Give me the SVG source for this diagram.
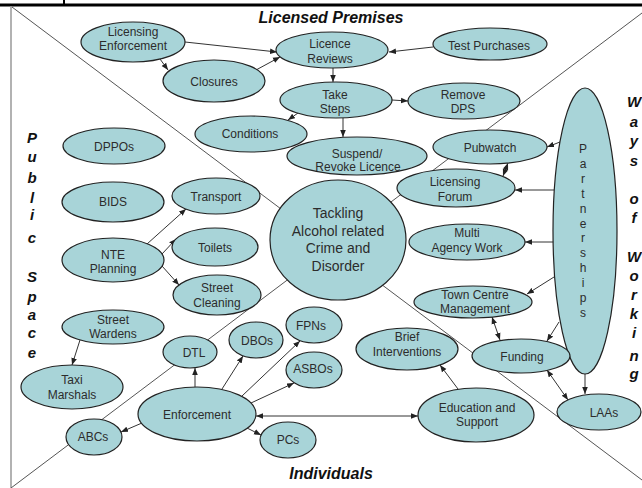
<svg xmlns="http://www.w3.org/2000/svg" width="642" height="488" viewBox="0 0 642 488">
<style>
.n{fill:#a8d4d8;stroke:#222;stroke-width:1.2}
.t{font-family:"Liberation Sans",Arial,sans-serif;font-size:12px;fill:#2c2c2c;text-anchor:middle}
.big{font-size:14px}
.c{stroke:#333;stroke-width:1;fill:none}
.d{stroke:#555;stroke-width:1;fill:none}
.h{font-family:"Liberation Sans",Arial,sans-serif;font-weight:bold;font-style:italic;font-size:16px;fill:#111;text-anchor:middle}
.v{font-family:"Liberation Sans",Arial,sans-serif;font-weight:bold;font-style:italic;font-size:15px;fill:#111;text-anchor:middle}
</style>
<defs>
<marker id="ah" viewBox="0 0 10 10" refX="10" refY="5" markerWidth="7" markerHeight="7" markerUnits="userSpaceOnUse" orient="auto-start-reverse">
<path d="M0,1 L10,5 L0,9 z" fill="#222"/>
</marker>
</defs>
<rect width="642" height="488" fill="#fff"/>
<g id="frame">
<line x1="0" y1="5" x2="642" y2="5" stroke="#000" stroke-width="3"/>
<line x1="64" y1="0" x2="64" y2="5" stroke="#000" stroke-width="2"/>
<line x1="11" y1="6" x2="11" y2="488" stroke="#999" stroke-width="1.5"/>
<line class="d" x1="12" y1="7" x2="642" y2="480"/>
<line class="d" x1="11" y1="488" x2="642" y2="13"/>
</g>
<g id="labels">
<text class="h" x="331" y="23">Licensed Premises</text>
<text class="h" x="331" y="479">Individuals</text>
<text class="v" x="32"><tspan x="32" y="143">P</tspan><tspan x="32" y="162">u</tspan><tspan x="32" y="183">b</tspan><tspan x="32" y="203">l</tspan><tspan x="32" y="220">i</tspan><tspan x="32" y="243">c</tspan><tspan x="32" y="282">S</tspan><tspan x="32" y="302">p</tspan><tspan x="32" y="320">a</tspan><tspan x="32" y="338">c</tspan><tspan x="32" y="358">e</tspan></text>
<text class="v" x="634"><tspan x="634" y="107">W</tspan><tspan x="634" y="127">a</tspan><tspan x="634" y="146">y</tspan><tspan x="634" y="166">s</tspan><tspan x="634" y="204">o</tspan><tspan x="634" y="223">f</tspan><tspan x="634" y="262">W</tspan><tspan x="634" y="281">o</tspan><tspan x="634" y="300">r</tspan><tspan x="634" y="319">k</tspan><tspan x="634" y="338">i</tspan><tspan x="634" y="361">n</tspan><tspan x="634" y="379">g</tspan></text>
</g>
<g id="connectors" class="c" marker-end="url(#ah)">
<line x1="185" y1="42" x2="277" y2="52"/>
<line x1="160" y1="59" x2="168" y2="70"/>
<line x1="256" y1="70" x2="280" y2="57"/>
<line x1="433" y1="47" x2="389" y2="52"/>
<line x1="333" y1="68" x2="333" y2="82"/>
<line x1="392" y1="100" x2="408" y2="101"/>
<line x1="298" y1="113" x2="288" y2="120"/>
<line x1="343" y1="118" x2="343" y2="137"/>
<line x1="560" y1="142" x2="547" y2="147"/>
<line x1="508" y1="163" x2="503" y2="176" marker-start="url(#ah)"/>
<line x1="554" y1="190" x2="515" y2="190"/>
<line x1="554" y1="242" x2="525" y2="242"/>
<line x1="554" y1="277" x2="527" y2="294"/>
<line x1="492" y1="317" x2="500" y2="340" marker-start="url(#ah)"/>
<line x1="559" y1="322" x2="547" y2="341"/>
<line x1="547" y1="370" x2="568" y2="400" marker-start="url(#ah)"/>
<line x1="585" y1="374" x2="585" y2="394"/>
<line x1="458" y1="389" x2="440" y2="365"/>
<line x1="256" y1="416" x2="418" y2="416" marker-start="url(#ah)"/>
<line x1="247" y1="428" x2="261" y2="435"/>
<line x1="251" y1="403" x2="294" y2="383"/>
<line x1="242" y1="396" x2="300" y2="341"/>
<line x1="222" y1="389" x2="243" y2="356"/>
<line x1="195" y1="387" x2="195" y2="368"/>
<line x1="142" y1="423" x2="121" y2="432"/>
<line x1="80" y1="340" x2="72" y2="365"/>
<line x1="147" y1="244" x2="186" y2="209"/>
<line x1="162" y1="254" x2="176" y2="239"/>
<line x1="162" y1="266" x2="179" y2="285"/>
</g>
<g id="licensing-enforcement"><ellipse class="n" cx="133" cy="42" rx="52" ry="20"/><text class="t" x="133" y="36">Licensing</text><text class="t" x="133" y="50">Enforcement</text></g>
<g id="closures"><ellipse class="n" cx="214" cy="81" rx="51" ry="21"/><text class="t" x="214" y="86">Closures</text></g>
<g id="licence-reviews"><ellipse class="n" cx="332" cy="50" rx="56" ry="18"/><text class="t" x="330" y="48">Licence</text><text class="t" x="330" y="63">Reviews</text></g>
<g id="test-purchases"><ellipse class="n" cx="490" cy="44" rx="57" ry="16"/><text class="t" x="489" y="50">Test Purchases</text></g>
<g id="take-steps"><ellipse class="n" cx="336" cy="100" rx="56" ry="18"/><text class="t" x="335" y="99">Take</text><text class="t" x="335" y="113">Steps</text></g>
<g id="remove-dps"><ellipse class="n" cx="464" cy="101" rx="56" ry="18"/><text class="t" x="463" y="99">Remove</text><text class="t" x="463" y="113">DPS</text></g>
<g id="conditions"><ellipse class="n" cx="251" cy="134" rx="56" ry="18"/><text class="t" x="250" y="138">Conditions</text></g>
<g id="suspend-revoke"><ellipse class="n" cx="357" cy="156" rx="70" ry="19"/><text class="t" x="357" y="158">Suspend/</text><text class="t" x="358" y="171">Revoke Licence</text></g>
<g id="pubwatch"><ellipse class="n" cx="490" cy="147" rx="57" ry="17"/><text class="t" x="490" y="152">Pubwatch</text></g>
<g id="licensing-forum"><ellipse class="n" cx="456" cy="188" rx="59" ry="19"/><text class="t" x="455" y="186">Licensing</text><text class="t" x="455" y="201">Forum</text></g>
<g id="multi-agency-work"><ellipse class="n" cx="467" cy="242" rx="58" ry="18"/><text class="t" x="467" y="237">Multi</text><text class="t" x="467" y="252">Agency Work</text></g>
<g id="partnerships"><ellipse class="n" cx="585" cy="231" rx="32" ry="143"/><text class="t"><tspan x="583" y="153">P</tspan><tspan x="583" y="168">a</tspan><tspan x="583" y="183">r</tspan><tspan x="583" y="198">t</tspan><tspan x="583" y="213">n</tspan><tspan x="583" y="228">e</tspan><tspan x="583" y="242">r</tspan><tspan x="583" y="257">s</tspan><tspan x="583" y="272">h</tspan><tspan x="583" y="287">i</tspan><tspan x="583" y="302">p</tspan><tspan x="583" y="317">s</tspan></text></g>
<g id="town-centre-management"><ellipse class="n" cx="473" cy="302" rx="59" ry="16"/><text class="t" x="475" y="299">Town Centre</text><text class="t" x="475" y="313">Management</text></g>
<g id="funding"><ellipse class="n" cx="521" cy="356" rx="49" ry="17"/><text class="t" x="522" y="361">Funding</text></g>
<g id="laas"><ellipse class="n" cx="599" cy="412" rx="42" ry="18"/><text class="t" x="604" y="417">LAAs</text></g>
<g id="brief-interventions"><ellipse class="n" cx="407" cy="349" rx="51" ry="21"/><text class="t" x="407" y="341">Brief</text><text class="t" x="407" y="356">Interventions</text></g>
<g id="education-support"><ellipse class="n" cx="476" cy="415" rx="58" ry="27"/><text class="t" x="477" y="412">Education and</text><text class="t" x="477" y="426">Support</text></g>
<g id="enforcement"><ellipse class="n" cx="197" cy="414" rx="59" ry="27"/><text class="t" x="197" y="419">Enforcement</text></g>
<g id="pcs"><ellipse class="n" cx="288" cy="440" rx="28" ry="18"/><text class="t" x="288" y="444">PCs</text></g>
<g id="asbos"><ellipse class="n" cx="314" cy="370" rx="28" ry="18"/><text class="t" x="313" y="373">ASBOs</text></g>
<g id="fpns"><ellipse class="n" cx="314" cy="325" rx="28" ry="18"/><text class="t" x="311" y="330">FPNs</text></g>
<g id="dbos"><ellipse class="n" cx="256" cy="340" rx="27" ry="18"/><text class="t" x="257" y="345">DBOs</text></g>
<g id="dtl"><ellipse class="n" cx="190" cy="352" rx="27" ry="16"/><text class="t" x="194" y="357">DTL</text></g>
<g id="abcs"><ellipse class="n" cx="94" cy="437" rx="28" ry="18"/><text class="t" x="93" y="441">ABCs</text></g>
<g id="taxi-marshals"><ellipse class="n" cx="72" cy="387" rx="51" ry="22"/><text class="t" x="72" y="384">Taxi</text><text class="t" x="72" y="399">Marshals</text></g>
<g id="street-wardens"><ellipse class="n" cx="113" cy="327" rx="51" ry="17"/><text class="t" x="113" y="324">Street</text><text class="t" x="113" y="338">Wardens</text></g>
<g id="nte-planning"><ellipse class="n" cx="113" cy="260" rx="51" ry="22"/><text class="t" x="113" y="259">NTE</text><text class="t" x="113" y="273">Planning</text></g>
<g id="bids"><ellipse class="n" cx="113" cy="202" rx="51" ry="20"/><text class="t" x="113" y="206">BIDS</text></g>
<g id="dppos"><ellipse class="n" cx="114" cy="146" rx="51" ry="18"/><text class="t" x="114" y="151">DPPOs</text></g>
<g id="transport"><ellipse class="n" cx="216" cy="196" rx="44" ry="18"/><text class="t" x="216" y="201">Transport</text></g>
<g id="toilets"><ellipse class="n" cx="215" cy="247" rx="43" ry="19"/><text class="t" x="215" y="252">Toilets</text></g>
<g id="street-cleaning"><ellipse class="n" cx="217" cy="295" rx="44" ry="20"/><text class="t" x="217" y="292">Street</text><text class="t" x="217" y="307">Cleaning</text></g>
<g id="central"><ellipse class="n" cx="338" cy="240" rx="68" ry="60"/><text class="t big" x="338" y="218">Tackling</text><text class="t big" x="338" y="236">Alcohol related</text><text class="t big" x="338" y="253">Crime and</text><text class="t big" x="338" y="271">Disorder</text></g>
</svg>
